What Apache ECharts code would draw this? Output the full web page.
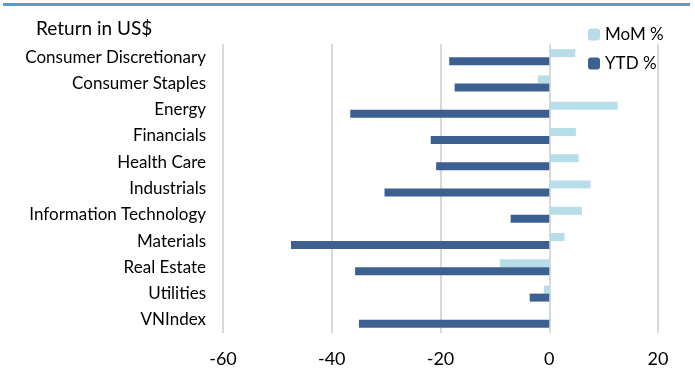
<!DOCTYPE html>
<html style="height: 100%; width: 100%;">
<head>
    <meta charset="utf-8">
    <title>Return in US$</title>
    <script src="https://cdn.jsdelivr.net/npm/echarts@6/dist/echarts.min.js"></script>
    <style>
        body, html { margin: 0; padding: 0; width: 100%; height: 100%; background: #fff; }
        #main { width: 695px; height: 372px; }
    </style>
</head>
<body>
<div id="main"></div>
<script type="text/javascript">
    var sectors = ['Consumer Discretionary', 'Consumer Staples', 'Energy', 'Financials', 'Health Care',
        'Industrials', 'Information Technology', 'Materials', 'Real Estate', 'Utilities', 'VNIndex'];
    var momValues = [4.8, -2.1, 12.6, 4.9, 5.4, 7.6, 6.0, 2.8, -9.1, -1.0, 0.2];
    var ytdValues = [-18.4, -17.4, -36.6, -21.8, -20.8, -30.3, -7.1, -47.5, -35.7, -3.6, -35.0];

    var font = 'Lato';
    var chart = echarts.init(document.getElementById('main'));

    var option = {
        animation: false,
        textStyle: { fontFamily: font },
        title: {
            text: 'Return in US$',
            left: 31, top: 14,
            textStyle: { fontFamily: font, fontSize: 19, fontWeight: 'normal', color: '#000' }
        },
        graphic: [{
            type: 'rect',
            shape: { x: 3, y: 3, width: 687, height: 3 },
            style: { fill: '#5b9bd5' }
        }],
        legend: {
            orient: 'vertical',
            left: 583, top: 21,
            itemWidth: 12, itemHeight: 12, itemGap: 12,
            textStyle: { fontFamily: font, fontSize: 17, color: '#000' },
            data: ['MoM %', 'YTD %']
        },
        grid: { left: 223, right: 37, top: 44, bottom: 39 },
        xAxis: {
            type: 'value',
            min: -60, max: 20, interval: 20,
            axisLine: { show: false },
            axisTick: { show: false },
            splitLine: { lineStyle: { color: '#d9d9d9', width: 2 } },
            axisLabel: { fontFamily: font, fontSize: 18, color: '#000', margin: 17 }
        },
        yAxis: {
            type: 'category',
            inverse: true,
            data: sectors,
            axisLine: { show: false },
            axisTick: { show: false },
            axisLabel: { fontFamily: font, fontSize: 17, color: '#000', margin: 17 }
        },
        series: [
            {
                name: 'MoM %', type: 'bar', data: momValues,
                barWidth: 8, barGap: '0%',
                itemStyle: { color: '#b7dde8' }
            },
            {
                name: 'YTD %', type: 'bar', data: ytdValues,
                barWidth: 8, barGap: '0%',
                itemStyle: { color: '#3c6191' }
            }
        ]
    };

    chart.setOption(option);
</script>
</body>
</html>
